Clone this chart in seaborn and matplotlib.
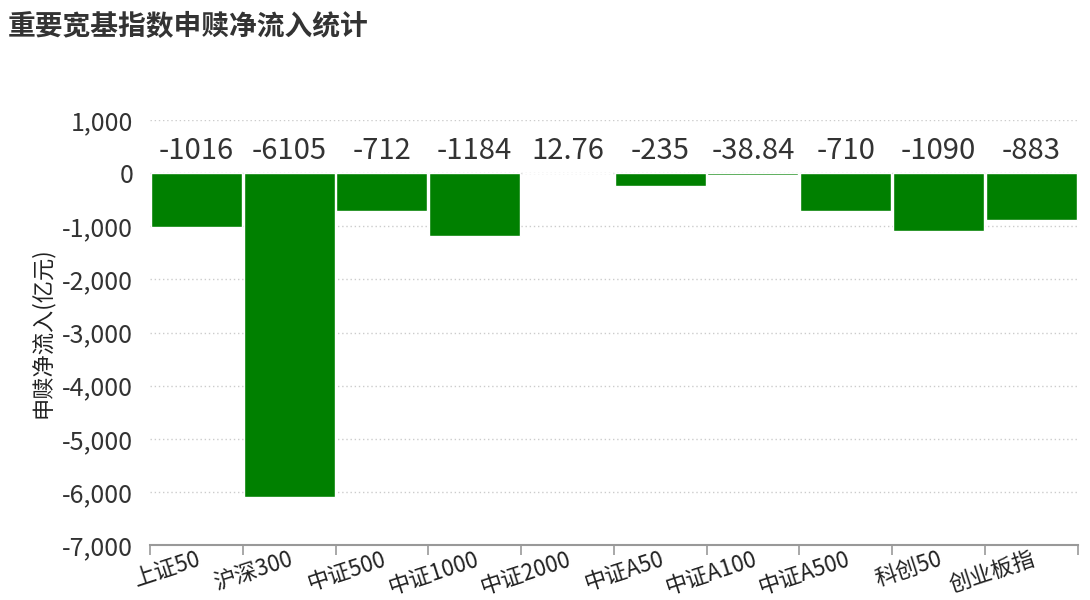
import matplotlib
matplotlib.use("Agg")
import matplotlib.pyplot as plt
import seaborn as sns
import pandas as pd
import numpy as np

categories = ["上证50", "沪深300", "中证500", "中证1000", "中证2000",
              "中证A50", "中证A100", "中证A500", "科创50", "创业板指"]
values = [-1016, -6105, -712, -1184, 12.76, -235, -38.84, -710, -1090, -883]
labels = ["-1016", "-6105", "-712", "-1184", "12.76", "-235", "-38.84", "-710", "-1090", "-883"]
yticks = [1000, 0, -1000, -2000, -3000, -4000, -5000, -6000, -7000]

sns.set_theme(style="white")
plt.rcParams['font.family'] = ['Noto Sans CJK SC', 'DejaVu Sans']
plt.rcParams['axes.unicode_minus'] = False

df = pd.DataFrame({"cat": categories, "val": values})
colors = ["#e06666" if v > 0 else "#008000" for v in values]

fig = plt.figure(figsize=(10.9, 6), dpi=100)
ax = fig.add_axes([0.1376, 0.0917, 0.851, 0.708])

sns.barplot(data=df, x="cat", y="val", hue="cat", palette=colors, legend=False,
            width=0.98, saturation=1, ax=ax, zorder=3)

ax.set_ylim(-7000, 1000)
ax.set_xlim(-0.5, len(categories) - 0.5)
ax.set_yticks(yticks)
ax.set_yticklabels([f"{t:,}" for t in yticks], fontsize=18, color="#333333")
ax.yaxis.grid(True, linestyle=(0, (1, 2)), color="#cccccc", linewidth=1, zorder=0)
ax.xaxis.grid(False)

# x ticks at category boundaries, labels at centers
ax.set_xticks(np.arange(-0.5, len(categories), 1.0), minor=False)
ax.set_xticklabels([])
ax.tick_params(axis="x", which="major", bottom=True, length=7, color="#999999", width=1.2)
ax.set_xticks(np.arange(len(categories)), minor=True)
ax.set_xticklabels(categories, minor=True, rotation=18, ha="right",
                   rotation_mode="anchor", fontsize=16, color="#222222")
ax.tick_params(axis="x", which="minor", bottom=False, length=0, pad=2)
ax.tick_params(axis="y", length=0, pad=12)

for s in ["top", "right", "left"]:
    ax.spines[s].set_visible(False)
ax.spines["bottom"].set_color("#999999")
ax.spines["bottom"].set_linewidth(1.5)

for i, lab in enumerate(labels):
    ax.text(i, 420, lab, ha="center", va="center", fontsize=21, color="#333333", zorder=4)

ax.set_xlabel("")
ax.set_ylabel("申赎净流入(亿元)", fontsize=16, color="#222222", labelpad=6)

fig.text(0.007, 0.955, "重要宽基指数申赎净流入统计", fontsize=20, fontweight="bold",
         color="#333333", ha="left", va="center")

fig.savefig("out.png", dpi=100)
